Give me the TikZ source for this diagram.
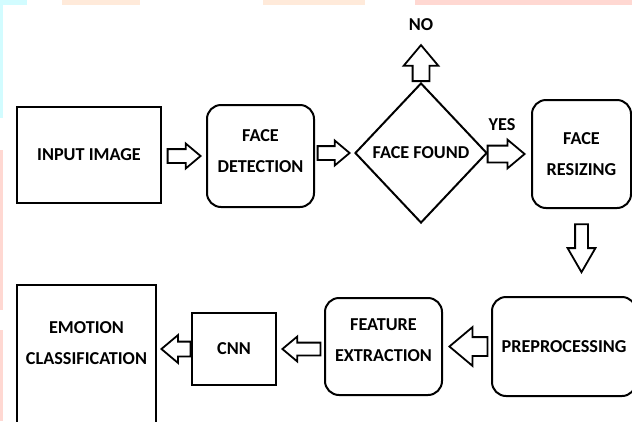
\documentclass[tikz,border=0pt]{standalone}
\usepackage{fontspec}
\setmainfont{Carlito}
\usepackage{xcolor}
\usetikzlibrary{shapes.geometric,shapes.arrows,calc}
\definecolor{bgcyan}{RGB}{210,252,255}
\definecolor{bgpeach}{RGB}{255,234,218}
\definecolor{bgpink}{RGB}{255,216,210}
\tikzset{
	box/.style={draw, line width=2pt, inner sep=0pt, align=center, font=\fontsize{18.2}{31}\selectfont\bfseries},
	rbox/.style={box, rounded corners=14pt},
	decision/.style={box, diamond},
	barrow/.style n args={3}{single arrow, draw, line width=1.8pt, inner sep=0pt, minimum height=#1, text height=#2, text depth=#2, single arrow head extend=#3, single arrow tip angle=80, anchor=tip},
	lbl/.style={inner sep=0pt, font=\fontsize{18.2}{20}\selectfont\bfseries}
}
\begin{document}
\begin{tikzpicture}[x=1pt, y=-1pt]
	\useasboundingbox (0,0) rectangle (632,421);
	\clip (0,0) rectangle (632,421);
	\fill[bgcyan] (0,0) rectangle (27,5);
	\fill[bgpeach] (62,0) rectangle (140,5);
	\fill[bgpeach] (263,0) rectangle (365,5);
	\fill[bgpink] (415,0) rectangle (632,5);
	\fill[bgcyan] (0,0) rectangle (3,118);
	\fill[bgpink] (0,150) rectangle (3,310);
	\fill[bgpink] (0,330) rectangle (3,421);

	\node[box, minimum width=144pt, minimum height=96pt] (inp) at (89,155) {INPUT IMAGE};
	\node[rbox, minimum width=107pt, minimum height=102pt, text depth=9pt] (det) at (260.5,156) {FACE\\DETECTION};
	\node[decision, minimum width=132pt, minimum height=140pt] (fnd) at (421,153) {FACE FOUND};
	\node[rbox, minimum width=99pt, minimum height=108pt] (rsz) at (581.5,154) {FACE\\RESIZING};
	\node[rbox, minimum width=144pt, minimum height=99pt] (pre) at (564,346.5) {PREPROCESSING};
	\node[rbox, minimum width=117pt, minimum height=97pt, text depth=13pt] (fea) at (383.5,346.5) {FEATURE\\EXTRACTION};
	\node[box, minimum width=84pt, minimum height=72pt] (cnn) at (234,349) {CNN};
	\node[box, minimum width=139pt, minimum height=170pt, text depth=53pt] (emo) at (86.5,370) {EMOTION\\CLASSIFICATION};

	\node[barrow={33pt}{6pt}{5.5pt}] (a1) at ([xshift=-4pt]det.west) {};
	\node[barrow={32pt}{6pt}{5.5pt}] (a2) at ([xshift=-3pt]fnd.west) {};
	\node[barrow={37pt}{7.5pt}{6pt}] (a3) at ([xshift=-5pt]rsz.west) {};
	\node[barrow={36pt}{7.5pt}{9pt}, rotate=90, anchor=tail] (a4) at (fnd.north) {};
	\node[barrow={48pt}{5.5pt}{7.5pt}, rotate=-90, single arrow tip angle=60] (a5) at ([yshift=22pt]rsz.south |- pre.north) {};
	\node[barrow={38pt}{8.5pt}{10pt}, rotate=180] (a6) at ([xshift=5pt]fea.east) {};
	\node[barrow={38pt}{5.5pt}{6pt}, rotate=180] (a7) at ([xshift=4pt]cnn.east) {};
	\node[barrow={29pt}{6.5pt}{6.5pt}, rotate=180] (a8) at ([xshift=3pt]cnn.west -| emo.east) {};

	\node[lbl] (no) at (421,25) {NO};
	\node[lbl] (yes) at (502,125) {YES};
\end{tikzpicture}
\end{document}
